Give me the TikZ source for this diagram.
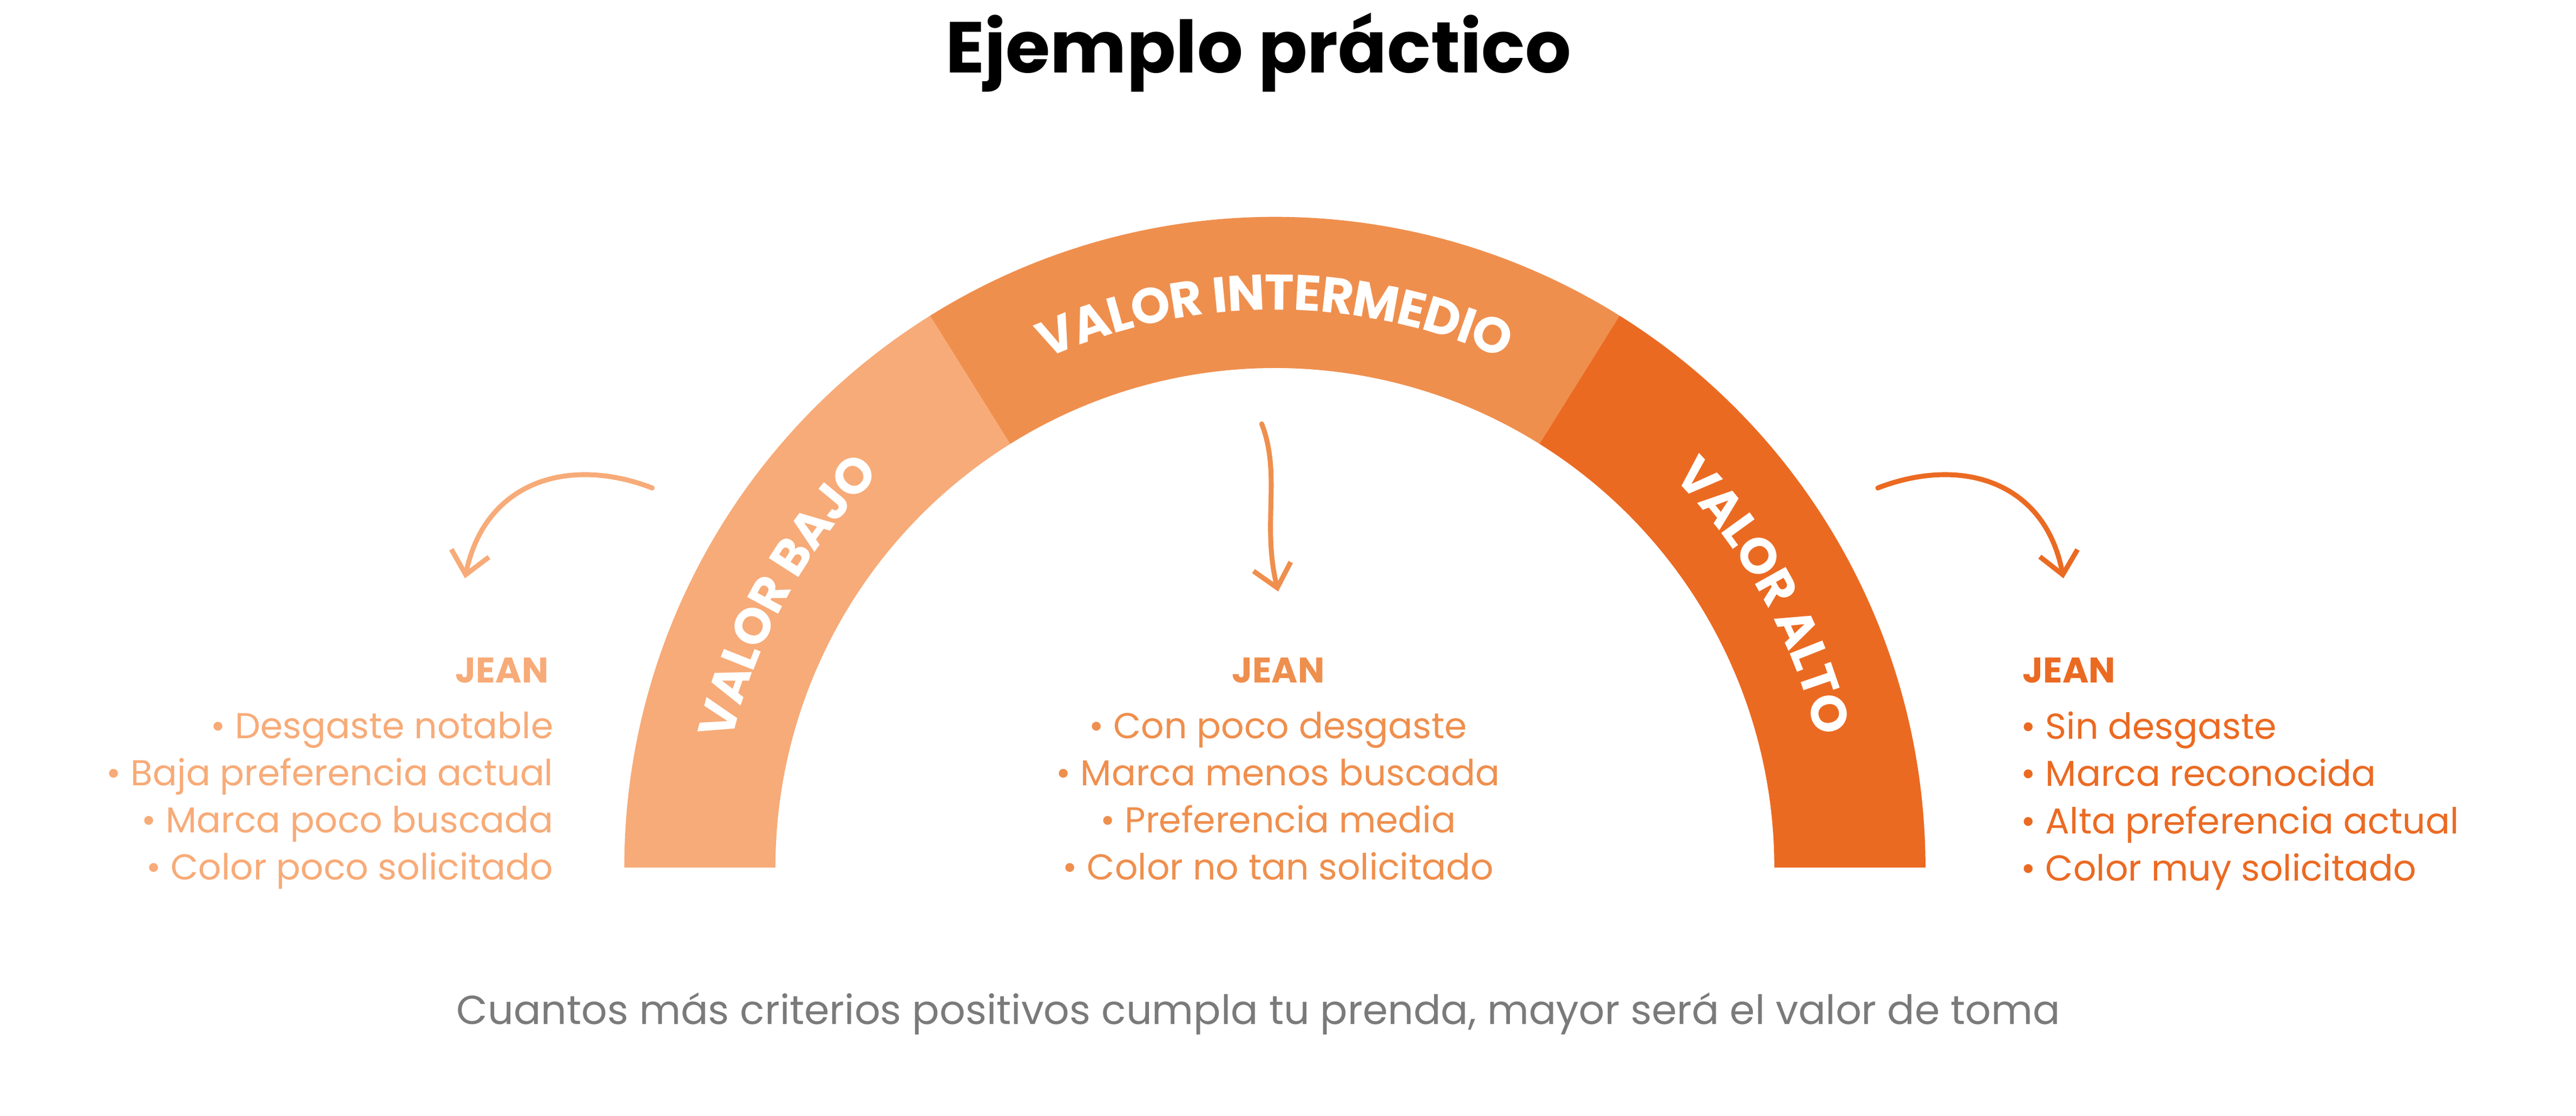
\documentclass[tikz,border=0pt]{standalone}
\usepackage{fontspec}
\setmainfont{Poppins}
\usetikzlibrary{positioning,decorations.text,arrows.meta}
\definecolor{lowc}{HTML}{F7AB78}
\definecolor{midc}{HTML}{EF8F4E}
\definecolor{highc}{HTML}{EB6A22}
\definecolor{capc}{HTML}{7A7A7A}
\tikzset{
  head/.style={font=\bfseries\fontsize{18.5}{22}\selectfont},
  items/.style={font=\fontsize{18.7}{24.5}\selectfont},
  hand/.style={line width=0.9mm,line cap=round,-{Straight Barb[length=4mm,width=7mm,line width=0.9mm]}},
  band/.style={decorate,decoration={text along path,text align=center,raise=-3.2mm,
    text={|\bfseries\fontsize{26}{26}\selectfont\color{white}|#1}}}
}
\begin{document}
\begin{tikzpicture}[x=0.3mm,y=0.3mm]
\useasboundingbox (0,0) rectangle (1568,679);
\node[font=\bfseries\fontsize{37.5}{42}\selectfont] (title) at (766,647) {Ejemplo práctico};
% arc
\begin{scope}[shift={(776,151)}]
  \fill[lowc] (180:118.8mm) arc[start angle=180,end angle=122,radius=118.8mm]
    -- (122:91.2mm) arc[start angle=122,end angle=180,radius=91.2mm] -- cycle;
  \fill[midc] (122:118.8mm) arc[start angle=122,end angle=58,radius=118.8mm]
    -- (58:91.2mm) arc[start angle=58,end angle=122,radius=91.2mm] -- cycle;
  \fill[highc] (58:118.8mm) arc[start angle=58,end angle=0,radius=118.8mm]
    -- (0:91.2mm) arc[start angle=0,end angle=58,radius=91.2mm] -- cycle;
  \path[band=VALOR BAJO] (180:105mm) arc[start angle=180,end angle=122,radius=105mm];
  \path[band=VALOR INTERMEDIO] (122:105mm) arc[start angle=122,end angle=58,radius=105mm];
  \path[band=VALOR ALTO] (58:105mm) arc[start angle=58,end angle=0,radius=105mm];
\end{scope}
% arrows
\coordinate (la) at (397,382);
\coordinate (lb) at (283,327);
\coordinate (ma) at (768,421);
\coordinate (mb) at (778,319);
\coordinate (ra) at (1143,382);
\coordinate (rb) at (1256,327);
\draw[hand,lowc] (la) .. controls (345,402) and (295,385) .. (lb);
\draw[hand,midc] (ma) .. controls (780,390) and (768,360) .. (mb);
\draw[hand,highc] (ra) .. controls (1195,402) and (1245,385) .. (rb);
% texts
\node[head,lowc,anchor=east] (lowhead) at (338,271) {JEAN};
\node[items,lowc,anchor=north east,align=right,inner sep=0pt] (lowlist) at (337,246)
  {• Desgaste notable\\• Baja preferencia actual\\• Marca poco buscada\\• Color poco solicitado};
\node[head,midc] (midhead) at (778,271) {JEAN};
\node[items,midc,anchor=north,align=center,inner sep=0pt] (midlist) at (778,246)
  {• Con poco desgaste\\• Marca menos buscada\\• Preferencia media\\• Color no tan solicitado};
\node[head,highc,anchor=west] (highhead) at (1227,271) {JEAN};
\node[items,highc,anchor=north west,align=left,inner sep=0pt] (highlist) at (1230,246)
  {• Sin desgaste\\• Marca reconocida\\• Alta preferencia actual\\• Color muy solicitado};
\node[capc,font=\fontsize{21}{25}\selectfont] (caption) at (766,62)
  {Cuantos más criterios positivos cumpla tu prenda, mayor será el valor de toma};
\end{tikzpicture}
\end{document}
